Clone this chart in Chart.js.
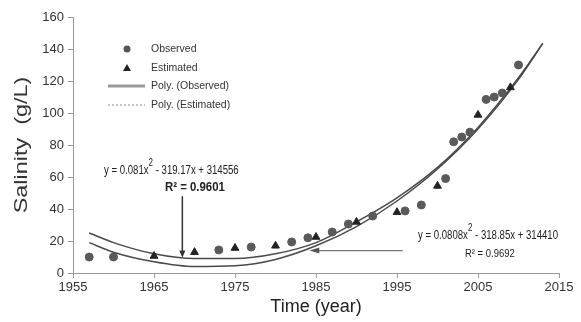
<!DOCTYPE html>
<html>
<head>
<meta charset="utf-8">
<script src="https://cdn.jsdelivr.net/npm/chart.js@4/dist/chart.umd.min.js"></script>
<style>
  html, body { margin: 0; padding: 0; background: #fff; }
  #wrap { width: 581px; height: 322px; }
</style>
</head>
<body>
<div id="wrap"><canvas id="salinityChart" width="581" height="322"></canvas></div>
<script>
// Observed salinity (circles)
const obsYears = [1957, 1960, 1973, 1977, 1982, 1984, 1987, 1989, 1992, 1996, 1998, 2001, 2002, 2003, 2004, 2006, 2007, 2008, 2010];
const obsSalinity = [10, 10, 14.4, 16.2, 19.4, 22, 25.6, 30.6, 35.6, 38.8, 42.5, 59, 82, 85, 88, 108.5, 110, 112.5, 130];

// Estimated salinity (triangles)
const estYears = [1965, 1970, 1975, 1980, 1985, 1990, 1995, 2000, 2005, 2009];
const estSalinity = [10.6, 13, 15.6, 17, 22.5, 31.9, 38, 54.4, 98.8, 116];

// polynomial trend lines
const fitYears = [1957, 1960, 1965, 1970, 1975, 1980, 1985, 1990, 1995, 2000, 2005, 2010, 2013];
const fitObserved = [25, 19, 12, 9, 9, 12, 19, 32, 47, 66, 91, 122, 143.5];
const fitEstimated = [19, 13, 7, 4, 4.5, 8.5, 17, 29, 45, 65, 90, 121, 143.5];

const xTicks = [1955, 1965, 1975, 1985, 1995, 2005, 2015];
const yTicks = [0, 20, 40, 60, 80, 100, 120, 140, 160];

const toXY = (xs, ys) => xs.map((x, i) => ({ x: x, y: ys[i] }));
const FONT = 'Arial, "Liberation Sans", sans-serif';

// legend, equations, arrows and y title drawn on top
const overlay = {
  id: 'overlay',
  afterDraw(chart) {
    const ctx = chart.ctx;
    const xs = chart.scales.x, ys = chart.scales.y;
    const px = v => xs.getPixelForValue(v);
    const py = v => ys.getPixelForValue(v);
    ctx.save();

    // y axis title, stretched like the original
    ctx.save();
    ctx.translate(22, (ys.top + ys.bottom) / 2);
    ctx.rotate(-Math.PI / 2);
    ctx.scale(1.3, 1);
    ctx.font = '18px ' + FONT;
    ctx.fillStyle = '#333';
    ctx.textAlign = 'center';
    ctx.textBaseline = 'middle';
    ctx.fillText('Salinity  (g/L)', 0, 0);
    ctx.restore();

    // legend
    ctx.font = '10.5px ' + FONT;
    ctx.fillStyle = '#333';
    ctx.textBaseline = 'middle';
    ctx.fillText('Observed', 151, 49);
    ctx.fillText('Estimated', 151, 68);
    ctx.fillText('Poly. (Observed)', 151, 86);
    ctx.fillText('Poly. (Estimated)', 151, 105);
    ctx.fillStyle = '#555';
    ctx.beginPath(); ctx.arc(127, 49, 3.5, 0, Math.PI * 2); ctx.fill();
    ctx.fillStyle = '#222';
    ctx.beginPath(); ctx.moveTo(127, 64); ctx.lineTo(131, 71); ctx.lineTo(123, 71); ctx.closePath(); ctx.fill();
    ctx.strokeStyle = '#9a9a9a'; ctx.lineWidth = 3;
    ctx.beginPath(); ctx.moveTo(108, 86); ctx.lineTo(145, 86); ctx.stroke();
    ctx.strokeStyle = '#c4c4c4'; ctx.lineWidth = 2; ctx.setLineDash([2, 2]);
    ctx.beginPath(); ctx.moveTo(108, 105); ctx.lineTo(145, 105); ctx.stroke();
    ctx.setLineDash([]);

    // condensed equation text
    function narrow(parts, x, y, size, sx, weight) {
      ctx.save();
      ctx.translate(x, y);
      ctx.scale(sx, 1);
      let cx = 0;
      parts.forEach(p => {
        ctx.font = (weight || '') + ' ' + (p.sup ? size - 2 : size) + 'px ' + FONT;
        ctx.fillText(p.t, cx, p.sup ? -8 : 0);
        cx += ctx.measureText(p.t).width;
      });
      ctx.restore();
    }
    ctx.fillStyle = '#222';
    narrow([{ t: 'y = 0.081x' }, { t: '2', sup: true }, { t: ' - 319.17x + 314556' }], 104, 171, 12, 0.8);
    narrow([{ t: 'R\u00b2 = 0.9601' }], 165, 188, 12, 0.95, 'bold');
    narrow([{ t: 'y = 0.0808x' }, { t: '2', sup: true }, { t: ' - 318.85x + 314410' }], 418, 236, 12, 0.8);
    narrow([{ t: 'R\u00b2 = 0.9692' }], 465, 254, 11, 0.86);

    // arrows
    ctx.strokeStyle = '#333'; ctx.fillStyle = '#333'; ctx.lineWidth = 1.5;
    const ax = px(1968.5);
    ctx.beginPath(); ctx.moveTo(ax, py(48)); ctx.lineTo(ax, py(12)); ctx.stroke();
    ctx.beginPath(); ctx.moveTo(ax, py(9.5)); ctx.lineTo(ax - 3, py(14)); ctx.lineTo(ax + 3, py(14)); ctx.closePath(); ctx.fill();
    ctx.strokeStyle = '#777'; ctx.lineWidth = 1.2;
    const ay = py(14);
    ctx.beginPath(); ctx.moveTo(px(1985.3), ay); ctx.lineTo(px(1995.7), ay); ctx.stroke();
    ctx.fillStyle = '#555';
    ctx.beginPath(); ctx.moveTo(px(1984.2), ay); ctx.lineTo(px(1985.4), ay - 3); ctx.lineTo(px(1985.4), ay + 3); ctx.closePath(); ctx.fill();
    ctx.restore();
  }
};

const ctx = document.getElementById('salinityChart').getContext('2d');
new Chart(ctx, {
  type: 'scatter',
  data: {
    datasets: [
      {
        label: 'Observed',
        data: toXY(obsYears, obsSalinity),
        pointStyle: 'circle',
        pointRadius: 4,
        backgroundColor: '#5a5a5a',
        borderColor: '#5a5a5a'
      },
      {
        label: 'Estimated',
        data: toXY(estYears, estSalinity),
        pointStyle: 'triangle',
        pointRadius: 4.5,
        backgroundColor: '#222',
        borderColor: '#222'
      },
      {
        label: 'Poly. (Observed)',
        type: 'line',
        data: toXY(fitYears, fitObserved),
        borderColor: '#4a4a4a',
        borderWidth: 1.5,
        pointRadius: 0,
        cubicInterpolationMode: 'monotone',
        fill: false
      },
      {
        label: 'Poly. (Estimated)',
        type: 'line',
        data: toXY(fitYears, fitEstimated),
        borderColor: '#4a4a4a',
        borderWidth: 1.5,
        pointRadius: 0,
        cubicInterpolationMode: 'monotone',
        fill: false
      }
    ]
  },
  options: {
    responsive: false,
    animation: false,
    layout: { padding: { left: 0, top: 17, right: 22, bottom: 0 } },
    plugins: { legend: { display: false }, tooltip: { enabled: false } },
    scales: {
      x: {
        type: 'linear',
        min: xTicks[0],
        max: xTicks[xTicks.length - 1],
        afterBuildTicks: s => { s.ticks = xTicks.map(v => ({ value: v })); },
        afterFit: s => { s.height = 49; },
        border: { color: '#999', width: 1 },
        grid: { drawOnChartArea: false, drawTicks: true, tickLength: 5, tickColor: '#999' },
        ticks: { color: '#333', font: { size: 13, family: FONT }, padding: 2, callback: v => String(v) },
        title: { display: true, text: 'Time (year)', color: '#222', font: { size: 18, family: FONT }, padding: { top: 0, bottom: 4 } }
      },
      y: {
        min: yTicks[0],
        max: yTicks[yTicks.length - 1],
        afterBuildTicks: s => { s.ticks = yTicks.map(v => ({ value: v })); },
        afterFit: s => { s.width = 73; },
        border: { color: '#999', width: 1 },
        grid: { drawOnChartArea: false, drawTicks: true, tickLength: 5, tickColor: '#999' },
        ticks: { color: '#333', font: { size: 13, family: FONT }, padding: 4 }
      }
    }
  },
  plugins: [overlay]
});
</script>
</body>
</html>
